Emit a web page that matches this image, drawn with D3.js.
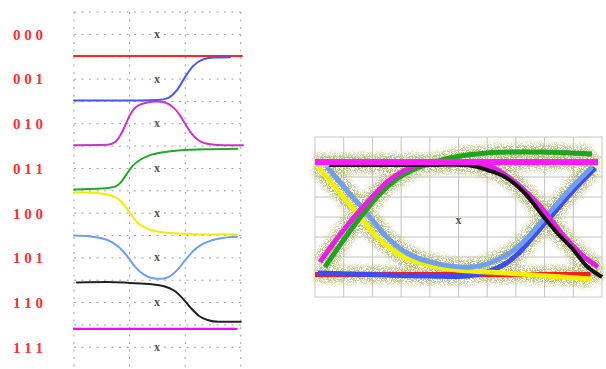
<!DOCTYPE html>
<html>
<head>
<meta charset="utf-8">
<script src="https://cdn.jsdelivr.net/npm/d3@7/dist/d3.min.js"></script>
<style>
  html, body { margin: 0; padding: 0; background: #fff; }
  svg { display: block; }
</style>
</head>
<body>
<svg id="chart" width="606" height="369"></svg>
<script>
// Three-bit symbol patterns, top to bottom
const symbols = ["0 0 0", "0 0 1", "0 1 0", "0 1 1", "1 0 0", "1 0 1", "1 1 0", "1 1 1"];
const symbolColors = ["#ff2222", "#4a56f0", "#cc33cc", "#22aa22", "#eeee00", "#6f9ef2", "#222222", "#ff00ff"];

// Per-pattern response: [bit time (0..3), level inside its row (0 = low, 1 = high)]
const resp000 = [[0, 0.015], [3.02, 0.015]];
const resp001 = [[0, 0.02], [1.2, 0.02], [1.5, 0.03], [1.7, 0.08], [1.85, 0.25], [2.0, 0.55], [2.15, 0.8], [2.3, 0.93], [2.5, 0.98], [2.81, 0.99]];
const resp010 = [[0, 0.02], [0.6, 0.03], [0.75, 0.1], [0.88, 0.35], [1.0, 0.68], [1.12, 0.88], [1.3, 0.97], [1.5, 1.0], [1.65, 0.97], [1.8, 0.85], [1.9, 0.7], [2.0, 0.5], [2.1, 0.3], [2.25, 0.12], [2.45, 0.04], [2.7, 0.02], [3.04, 0.02]];
const resp011 = [[0, 0.03], [0.5, 0.05], [0.75, 0.1], [0.85, 0.2], [0.95, 0.38], [1.05, 0.55], [1.2, 0.7], [1.4, 0.81], [1.7, 0.88], [2.1, 0.92], [2.5, 0.93], [2.94, 0.94]];
const resp100 = [[0, 0.97], [0.4, 0.95], [0.7, 0.88], [0.85, 0.76], [0.95, 0.6], [1.05, 0.43], [1.15, 0.28], [1.3, 0.16], [1.5, 0.09], [1.8, 0.05], [2.2, 0.03], [2.93, 0.02]];
const resp101 = [[0, 1.0], [0.3, 0.98], [0.6, 0.9], [0.8, 0.75], [0.95, 0.55], [1.1, 0.3], [1.25, 0.13], [1.4, 0.05], [1.55, 0.03], [1.7, 0.07], [1.85, 0.22], [2.0, 0.45], [2.15, 0.66], [2.3, 0.8], [2.5, 0.9], [2.7, 0.95], [2.93, 0.97]];
const resp110 = [[0.05, 0.95], [0.6, 0.96], [1.0, 0.94], [1.4, 0.91], [1.6, 0.87], [1.8, 0.77], [1.95, 0.6], [2.1, 0.38], [2.25, 0.2], [2.4, 0.11], [2.6, 0.07], [3.0, 0.07]];
const resp111 = [[0, 0.91], [2.92, 0.91]];
const responses = [resp000, resp001, resp010, resp011, resp100, resp101, resp110, resp111];

// Overlaid eye traces: [time division (0..10), amplitude division (0..8)]
const eye000 = [[0, 1.12], [9.6, 1.12]];
const eye001 = [[0.1, 1.2], [2, 1.12], [4, 1.05], [5.3, 1.05], [6.0, 1.25], [6.62, 1.65], [7.1, 2.2], [7.56, 2.95], [8.26, 4.1], [8.95, 5.25], [9.76, 6.45]];
const eye010 = [[0.17, 1.75], [1.0, 3.35], [1.8, 4.7], [2.6, 5.85], [3.3, 6.45], [4.0, 6.7], [5.6, 6.72], [6.3, 6.4], [7.0, 5.7], [7.8, 4.6], [8.7, 3.0], [9.3, 2.1], [9.86, 1.5]];
const eye011 = [[0.35, 1.5], [1.32, 3.5], [2.16, 5.0], [2.96, 6.0], [3.66, 6.5], [4.7, 6.95], [6.0, 7.2], [7.77, 7.25], [9.65, 7.15]];
const eye100 = [[0.1, 6.5], [0.87, 5.2], [1.57, 4.0], [2.16, 3.0], [2.86, 2.2], [3.66, 1.7], [4.95, 1.35], [6.62, 1.2], [9.65, 0.9]];
const eye101 = [[0.42, 6.5], [1.1, 5.35], [1.8, 4.2], [2.5, 3.0], [3.2, 2.2], [4.1, 1.72], [5.47, 1.5], [6.17, 1.75], [7.07, 2.5], [8.0, 3.95], [8.8, 5.25], [9.3, 6.0], [9.65, 6.5]];
const eye110 = [[0.5, 6.6], [2, 6.6], [4, 6.6], [5.4, 6.58], [6.0, 6.35], [6.62, 6.0], [7.3, 5.2], [8.0, 3.95], [8.5, 3.1], [8.95, 2.45], [9.5, 1.5], [10, 1.0]];
const eye111 = [[0, 6.75], [9.86, 6.75]];
// drawing order (back to front)
const eyeTraces = [
  { pts: eye000, color: "#ff1a1a", w: 5 },
  { pts: eye001, color: "#3d4cf5", w: 5 },
  { pts: eye100, color: "#f2f200", w: 5 },
  { pts: eye101, color: "#6f9ef2", w: 5 },
  { pts: eye011, color: "#1fa51f", w: 5 },
  { pts: eye010, color: "#e61ee6", w: 5 },
  { pts: eye110, color: "#111111", w: 4 },
  { pts: eye111, color: "#ff1aff", w: 6 }
];

const svg = d3.select("#chart");

// ---------- left panel: per-pattern responses ----------
const xL = d3.scaleLinear().domain([0, 3]).range([74, 240.8]);
const yL = d3.scaleLinear().domain([0, 8]).range([369.6, 12]);
const left = svg.append("g");

const grid = left.append("g")
  .attr("stroke", "#a0a0a0").attr("stroke-width", 1)
  .attr("stroke-dasharray", "2,5.5");
grid.selectAll("line.v").data(d3.range(0, 3.01, 1)).join("line")
  .attr("x1", d => xL(d)).attr("x2", d => xL(d))
  .attr("y1", yL(8)).attr("y2", 369);
grid.selectAll("line.h").data(d3.range(0, 8.01, 0.5)).join("line")
  .attr("x1", xL(0)).attr("x2", xL(3))
  .attr("y1", d => yL(d)).attr("y2", d => yL(d));

const lineL = (row) => d3.line()
  .x(d => xL(d[0]))
  .y(d => yL(7 - row + d[1]))
  .curve(d3.curveMonotoneX);

responses.forEach((pts, i) => {
  left.append("path")
    .attr("d", lineL(i)(pts))
    .attr("fill", "none")
    .attr("stroke", symbolColors[i])
    .attr("stroke-width", i === 7 ? 2.4 : 2)
    .attr("stroke-linecap", "round");
});

left.selectAll("text.lab").data(symbols).join("text")
  .attr("x", 13)
  .attr("y", (d, i) => yL(7.5 - i))
  .attr("dy", "0.36em")
  .attr("font-family", "'Liberation Serif', 'DejaVu Serif', serif")
  .attr("font-weight", "bold")
  .attr("font-size", 15)
  .attr("letter-spacing", 0)
  .attr("fill", "#ff3030")
  .text(d => d);

left.selectAll("text.mark").data(symbols).join("text")
  .attr("x", 157)
  .attr("y", (d, i) => yL(7.5 - i))
  .attr("dy", "0.3em")
  .attr("text-anchor", "middle")
  .attr("font-family", "'Liberation Serif', serif")
  .attr("font-weight", "bold")
  .attr("font-size", 12)
  .attr("fill", "#555")
  .text("x");

// ---------- right panel: eye diagram ----------
const xE = d3.scaleLinear().domain([0, 10]).range([315, 602]);
const yE = d3.scaleLinear().domain([0, 8]).range([297, 137]);
const eye = svg.append("g");

const defs = svg.append("defs");
const f = defs.append("filter").attr("id", "speckle")
  .attr("x", "-10%").attr("y", "-10%").attr("width", "120%").attr("height", "120%");
f.append("feTurbulence").attr("type", "fractalNoise").attr("baseFrequency", 1.2)
  .attr("numOctaves", 1).attr("seed", 7).attr("result", "noise");
f.append("feColorMatrix").attr("in", "noise").attr("type", "matrix")
  .attr("values", "0 0 0 0 0.45  0 0 0 0 0.5  0 0 0 0 0.16  9 0 0 0 -3.9")
  .attr("result", "dots");
f.append("feGaussianBlur").attr("in", "SourceAlpha").attr("stdDeviation", 3).attr("result", "soft");
f.append("feComposite").attr("in", "dots").attr("in2", "soft").attr("operator", "in");

eye.append("rect")
  .attr("x", xE(0)).attr("y", yE(8))
  .attr("width", xE(10) - xE(0)).attr("height", yE(0) - yE(8))
  .attr("fill", "#fff").attr("stroke", "#c8c8c8");
eye.append("g").attr("stroke", "#c4c4c4").attr("stroke-width", 1)
  .call(g => g.selectAll("line.v").data(d3.range(1, 10)).join("line")
    .attr("x1", d => xE(d)).attr("x2", d => xE(d))
    .attr("y1", yE(0)).attr("y2", yE(8)))
  .call(g => g.selectAll("line.h").data(d3.range(1, 8)).join("line")
    .attr("x1", xE(0)).attr("x2", xE(10))
    .attr("y1", d => yE(d)).attr("y2", d => yE(d)));

const lineE = d3.line().x(d => xE(d[0])).y(d => yE(d[1])).curve(d3.curveCatmullRom.alpha(0.5));

// noise cloud around the traces
eye.append("g").attr("filter", "url(#speckle)")
  .selectAll("path").data(eyeTraces).join("path")
  .attr("d", d => lineE(d.pts))
  .attr("fill", "none").attr("stroke", "#000").attr("stroke-width", 16);

eye.selectAll("path.trace").data(eyeTraces).join("path")
  .attr("class", "trace")
  .attr("d", d => lineE(d.pts))
  .attr("fill", "none")
  .attr("stroke", d => d.color)
  .attr("stroke-width", d => d.w)
  .attr("stroke-linecap", "butt");

eye.append("text")
  .attr("x", xE(5)).attr("y", yE(3.85))
  .attr("text-anchor", "middle")
  .attr("dy", "0.3em")
  .attr("font-family", "'Liberation Serif', serif")
  .attr("font-weight", "bold")
  .attr("font-size", 12)
  .attr("fill", "#555")
  .text("x");
</script>
</body>
</html>
